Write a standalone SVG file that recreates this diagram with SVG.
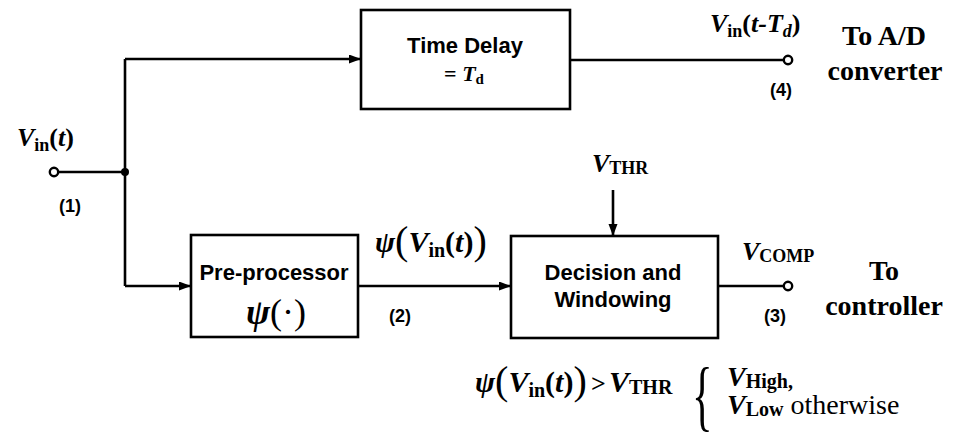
<svg xmlns="http://www.w3.org/2000/svg" width="965" height="434" viewBox="0 0 965 434">
<style>
.box{fill:#fff;stroke:#000;stroke-width:2.6}
.ln{fill:none;stroke:#000;stroke-width:2.6}
.term{fill:#fff;stroke:#000;stroke-width:2.4}
.ss{font-family:"Liberation Sans",Arial,sans-serif;font-weight:bold;fill:#000}
.sr{font-family:"Liberation Serif","Times New Roman",serif;font-weight:bold;fill:#000}
.it{font-style:italic}
.up{font-style:normal}
.nb{font-weight:normal}
</style>
<defs>
<marker id="arr" markerUnits="userSpaceOnUse" markerWidth="13" markerHeight="10" refX="12" refY="4.5" orient="auto">
<path d="M0,0 L12,4.5 L0,9 z" fill="#000"/>
</marker>
</defs>
<rect width="965" height="434" fill="#fff"/>

<g id="connectors">
<line class="ln" x1="58" y1="172" x2="125" y2="172"/>
<line class="ln" x1="125" y1="59" x2="125" y2="286"/>
<line class="ln" x1="125" y1="59" x2="361" y2="59" marker-end="url(#arr)"/>
<line class="ln" x1="570" y1="60" x2="784" y2="60"/>
<line class="ln" x1="125" y1="286" x2="191" y2="286" marker-end="url(#arr)"/>
<line class="ln" x1="358" y1="286" x2="511" y2="286" marker-end="url(#arr)"/>
<line class="ln" x1="613" y1="190" x2="613" y2="236" marker-end="url(#arr)"/>
<line class="ln" x1="718" y1="286" x2="784" y2="286"/>
<circle cx="125" cy="172" r="4" fill="#000"/>
</g>

<g id="input">
<circle class="term" cx="54" cy="172" r="4.2"/>
<text class="sr it" x="17" y="146" font-size="26">V<tspan class="up" font-size="18" dy="5">in</tspan><tspan class="up" dy="-5">(</tspan>t<tspan class="up">)</tspan></text>
<text class="ss" x="70" y="212" font-size="18" text-anchor="middle">(1)</text>
</g>

<g id="time-delay">
<rect class="box" x="361" y="10" width="209" height="99"/>
<text class="ss" x="465" y="53" font-size="22" text-anchor="middle">Time Delay</text>
<text class="sr" x="464" y="81" font-size="22" text-anchor="middle">= <tspan class="it">T</tspan><tspan font-size="15" dy="3">d</tspan></text>
</g>

<g id="output-ad">
<circle class="term" cx="788" cy="60" r="4.2"/>
<text class="sr it" x="710" y="32" font-size="26">V<tspan class="up" font-size="18" dy="5">in</tspan><tspan class="up" dy="-5">(</tspan>t-T<tspan font-size="18" dy="5">d</tspan><tspan class="up" dy="-5">)</tspan></text>
<text class="ss" x="781" y="96" font-size="18" text-anchor="middle">(4)</text>
<text class="sr" x="884" y="45" font-size="28" text-anchor="middle">To A/D</text>
<text class="sr" x="885" y="80" font-size="28" text-anchor="middle">converter</text>
</g>

<g id="pre-processor">
<rect class="box" x="191" y="235" width="167" height="102"/>
<text class="ss" x="274" y="280" font-size="22" text-anchor="middle">Pre-processor</text>
<text class="sr" x="276" y="324" font-size="36" text-anchor="middle"><tspan class="it">ψ</tspan><tspan class="nb">(·)</tspan></text>
</g>

<g id="signal-2">
<text class="sr" x="375" y="252" font-size="30"><tspan class="it">ψ</tspan><tspan font-size="40" class="nb" dy="2">(</tspan><tspan class="it" dy="-2">V</tspan><tspan font-size="20" dy="5">in</tspan><tspan dy="-5">(</tspan><tspan class="it">t</tspan>)<tspan font-size="40" class="nb" dy="2">)</tspan></text>
<text class="ss" x="400" y="322" font-size="18" text-anchor="middle">(2)</text>
</g>

<g id="decision">
<rect class="box" x="511" y="236" width="207" height="102"/>
<text class="ss" x="613" y="280" font-size="22" text-anchor="middle">Decision and</text>
<text class="ss" x="613" y="307" font-size="22" text-anchor="middle">Windowing</text>
</g>

<g id="vthr">
<text class="sr" x="592" y="172" font-size="26"><tspan class="it">V</tspan><tspan font-size="18" dy="2">THR</tspan></text>
</g>

<g id="output-ctrl">
<circle class="term" cx="788" cy="286" r="4.2"/>
<text class="sr" x="742" y="260" font-size="26"><tspan class="it">V</tspan><tspan font-size="18" dy="2">COMP</tspan></text>
<text class="ss" x="775" y="322" font-size="18" text-anchor="middle">(3)</text>
<text class="sr" x="884" y="280" font-size="28" text-anchor="middle">To</text>
<text class="sr" x="884" y="315" font-size="28" text-anchor="middle">controller</text>
</g>

<g id="formula">
<text class="sr" x="475" y="392" font-size="30"><tspan class="it">ψ</tspan><tspan font-size="40" class="nb" dy="2">(</tspan><tspan class="it" dy="-2">V</tspan><tspan font-size="20" dy="5">in</tspan><tspan dy="-5">(</tspan><tspan class="it">t</tspan>)<tspan font-size="40" class="nb" dy="2">)</tspan></text>
<text class="sr" x="591" y="392" font-size="26">&gt;</text>
<text class="sr" x="609" y="392" font-size="30"><tspan class="it">V</tspan><tspan font-size="20" dy="2">THR</tspan></text>
<text class="sr nb" font-size="78" transform="translate(692,422) scale(0.55,1)">{</text>
<text class="sr" x="727" y="386" font-size="28"><tspan class="it">V</tspan><tspan font-size="20" dy="2">High,</tspan></text>
<text class="sr" x="727" y="414" font-size="28"><tspan class="it">V</tspan><tspan font-size="20" dy="2">Low</tspan><tspan class="nb" dy="-2"> otherwise</tspan></text>
</g>
</svg>
